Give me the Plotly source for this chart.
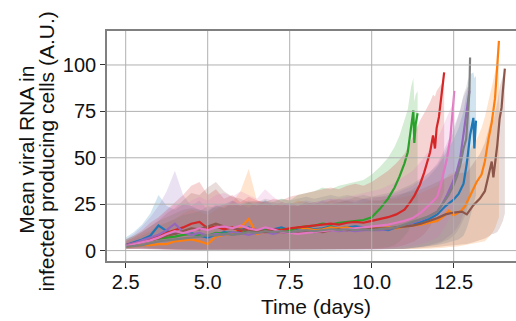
import plotly.graph_objects as go

# Shared sampling grid (days) for the slow phase of every trajectory
T_EARLY = [2.5, 2.75, 3.0, 3.25, 3.5, 3.75, 4.0, 4.25, 4.5, 4.75,
           5.0, 5.25, 5.5, 5.75, 6.0, 6.25, 6.5, 6.75, 7.0, 7.25,
           7.5, 7.75, 8.0, 8.25, 8.5, 8.75, 9.0, 9.25, 9.5, 9.75, 10.0]

# ---- run 1 (blue) ----
BLUE_T = T_EARLY + [10.25, 10.5, 10.75, 11.0, 11.25, 11.5, 11.75, 12.0, 12.25, 12.5,
                    12.65, 12.8, 12.9, 13.0, 13.1, 13.13, 13.18]
BLUE_MEAN = [3.0, 4.5, 6.0, 8.0, 13.5, 10.5, 9.0, 10.5, 9.5, 8.0, 7.0, 8.5, 10.0, 9.5, 11.0,
             12.5, 10.5, 12.0, 11.5, 12.5, 11.0, 12.0, 12.5, 11.5, 12.0, 13.0, 12.0, 12.5, 13.0, 12.5, 12.0,
             11.5, 11.0, 12.5, 13.0, 14.0, 15.5, 17.0, 19.5, 24.0, 27.5, 30.5, 36.0, 47.0, 62.0, 71.5, 55.0, 70.0]
BLUE_HI = [7, 10, 14, 20, 30, 24, 22, 25, 24, 22, 21, 24, 25, 27, 24,
           26, 24, 27, 25, 24, 26, 24, 26, 25, 27, 25, 26, 27, 26, 28, 27,
           27, 28, 29, 31, 33, 36, 40, 45, 52, 60, 66, 75, 85, 95, 96, 93, 94]
BLUE_LO = [1.5, 2.0, 2.0, 1.5, 1.0, 0.8, 0.6, 0.5, 0.5, 0.4, 0.4, 0.5, 0.4, 0.5, 0.4,
           0.5, 0.4, 0.5, 0.5, 0.4, 0.5, 0.5, 0.4, 0.5, 0.5, 0.5, 0.4, 0.5, 0.5, 0.5, 0.5,
           0.5, 0.6, 0.8, 1, 1.5, 2, 2.5, 3, 4, 5, 6, 8, 12, 18, 25, 26, 30]

# ---- run 2 (orange) ----
ORANGE_T = T_EARLY + [10.25, 10.5, 10.75, 11.0, 11.25, 11.5, 11.75, 12.0, 12.2, 12.35,
                      12.5, 12.7, 12.85, 12.95, 13.05, 13.2, 13.35, 13.45, 13.56, 13.66,
                      13.76, 13.81, 13.88]
ORANGE_MEAN = [2.0, 2.5, 3.0, 3.0, 3.5, 3.5, 5.0, 5.5, 6.0, 5.0, 3.5, 7.5, 8.5, 9.0, 12.5,
               17.0, 9.0, 10.0, 9.5, 10.0, 11.0, 12.5, 12.0, 11.0, 11.5, 12.5, 12.0, 12.5, 11.5, 12.0, 12.5,
               12.0, 12.5, 12.0, 13.0, 13.5, 14.0, 15.0, 16.0, 18.5, 21.5, 19.0, 21.0, 24.0, 28.0, 31.5,
               37.0, 41.0, 48.0, 60.0, 69.0, 82.0, 96.0, 113.0]
ORANGE_HI = [5, 7, 9, 11, 14, 15, 17, 20, 22, 21, 19, 22, 24, 26, 32,
             44, 27, 26, 24, 26, 25, 27, 26, 25, 26, 27, 26, 27, 25, 26, 27,
             27, 28, 28, 29, 30, 31, 33, 35, 38, 41, 42, 45, 48, 52, 56,
             60, 66, 72, 80, 88, 96, 100, 104]
ORANGE_LO = [1.0, 1.2, 1.2, 1.0, 0.8, 0.8, 0.6, 0.5, 0.5, 0.5, 0.4, 0.5, 0.5, 0.4, 0.5,
             0.5, 0.4, 0.5, 0.5, 0.5, 0.4, 0.5, 0.5, 0.4, 0.5, 0.5, 0.5, 0.4, 0.5, 0.5, 0.5,
             0.5, 0.5, 0.5, 0.6, 0.7, 0.8, 1, 1.2, 1.5, 2, 2, 2.5, 3, 3, 3.5,
             4, 4.5, 5, 7, 9, 12, 15, 18]

# ---- run 3 (green) ----
GREEN_T = T_EARLY + [10.25, 10.5, 10.7, 10.85, 11.0, 11.1, 11.2, 11.27, 11.3, 11.34, 11.4]
GREEN_MEAN = [3.0, 3.5, 4.5, 5.5, 6.5, 7.0, 7.5, 8.5, 9.0, 8.5, 8.0, 9.5, 9.0, 10.0, 9.5,
              10.5, 10.0, 11.0, 10.5, 11.5, 11.0, 12.5, 13.0, 13.5, 14.5, 14.0, 15.0, 15.5, 16.0, 16.5, 18.0,
              22.5, 28.0, 34.0, 40.0, 47.0, 53.0, 66.0, 75.5, 58.0, 68.0, 74.0]
GREEN_HI = [6, 8, 10, 13, 16, 18, 20, 22, 23, 22, 21, 24, 23, 25, 24,
            26, 25, 27, 26, 28, 27, 30, 31, 32, 34, 33, 35, 36, 37, 38, 41,
            45, 50, 56, 62, 70, 76, 88, 93, 80, 84, 86]
GREEN_LO = [1.2, 1.5, 1.5, 1.2, 1.0, 0.8, 0.7, 0.6, 0.6, 0.5, 0.5, 0.6, 0.5, 0.6, 0.5,
            0.6, 0.5, 0.6, 0.5, 0.6, 0.6, 0.7, 0.7, 0.8, 0.8, 0.8, 0.9, 0.9, 1.0, 1.0, 1.2,
            1.5, 2, 3, 5, 8, 10, 14, 16, 15, 16, 18]

# ---- run 4 (red) ----
RED_T = T_EARLY + [10.25, 10.5, 10.75, 11.0, 11.17, 11.3, 11.47, 11.6, 11.78, 11.87,
                   11.93, 11.98, 12.05, 12.12, 12.21]
RED_MEAN = [3.0, 4.0, 5.0, 6.5, 8.0, 9.5, 11.0, 12.5, 14.5, 15.5, 12.0, 13.0, 11.5, 12.5, 10.5,
            12.0, 11.0, 10.5, 11.5, 11.0, 12.0, 12.5, 13.0, 13.5, 14.0, 14.5, 14.0, 15.0, 15.5, 15.0, 16.0,
            17.0, 18.0, 19.5, 22.0, 26.0, 29.5, 35.5, 42.0, 53.0, 62.0, 55.0, 66.0, 72.0, 82.0, 96.0]
RED_HI = [6, 8, 11, 15, 18, 22, 26, 30, 35, 37, 30, 33, 28, 30, 26,
          29, 27, 26, 28, 27, 29, 30, 31, 32, 33, 34, 33, 35, 36, 35, 37,
          40, 43, 47, 52, 58, 63, 70, 74, 80, 84, 83, 86, 88, 90, 92]
RED_LO = [1.0, 1.2, 1.2, 1.0, 0.8, 0.7, 0.6, 0.5, 0.5, 0.5, 0.4, 0.5, 0.5, 0.4, 0.5,
          0.5, 0.5, 0.4, 0.5, 0.5, 0.5, 0.6, 0.6, 0.7, 0.7, 0.8, 0.8, 0.9, 0.9, 1.0, 1.0,
          1, 1.5, 2, 3, 4, 5, 7, 9, 13, 17, 16, 20, 24, 28, 32]

# ---- run 5 (purple) ----
PURPLE_T = T_EARLY + [10.25, 10.5, 10.75, 11.0, 11.25, 11.5, 11.75, 12.0, 12.15, 12.3,
                      12.45, 12.6, 12.7, 12.78, 12.86, 12.92, 12.98]
PURPLE_MEAN = [3.0, 4.0, 5.5, 7.0, 8.5, 11.0, 14.5, 10.0, 8.5, 9.5, 8.0, 9.0, 8.5, 10.0, 9.5,
               8.5, 9.5, 10.0, 9.0, 10.0, 9.5, 10.0, 10.5, 10.0, 10.5, 11.0, 10.5, 11.0, 10.5, 11.0, 11.0,
               11.0, 11.5, 12.5, 13.5, 15.0, 16.5, 18.5, 21.0, 25.0, 30.0, 36.0, 43.0, 50.0, 60.0, 70.0,
               78.0, 86.0]
PURPLE_HI = [6, 9, 13, 18, 24, 32, 43, 30, 24, 27, 22, 25, 23, 27, 25,
             23, 26, 27, 24, 26, 25, 26, 27, 26, 27, 28, 27, 28, 27, 28, 28,
             29, 30, 31, 33, 35, 38, 42, 47, 52, 58, 64, 71, 76, 82, 86, 88, 88]
PURPLE_LO = [1.0, 1.2, 1.0, 0.8, 0.6, 0.5, 0.5, 0.4, 0.4, 0.5, 0.4, 0.4, 0.5, 0.4, 0.5,
             0.4, 0.5, 0.4, 0.5, 0.4, 0.5, 0.4, 0.5, 0.5, 0.4, 0.5, 0.5, 0.4, 0.5, 0.5, 0.5,
             0.5, 0.6, 0.8, 1, 1.5, 2, 3, 4, 5, 7, 9, 12, 15, 19, 23, 26, 29]

# ---- run 6 (brown) ----
BROWN_T = T_EARLY + [10.25, 10.5, 10.75, 11.0, 11.25, 11.5, 11.75, 12.0, 12.25, 12.5,
                     12.75, 12.9, 13.1, 13.3, 13.45, 13.6, 13.66, 13.71, 13.83, 13.9,
                     13.96, 14.0, 14.06]
BROWN_MEAN = [2.5, 3.5, 4.5, 5.5, 6.5, 8.0, 9.0, 10.5, 12.0, 11.5, 13.0, 14.5, 13.0, 12.0, 11.5,
              10.5, 11.0, 10.0, 10.5, 10.0, 9.5, 9.5, 10.0, 10.5, 10.0, 11.0, 11.5, 11.0, 12.0, 11.5, 12.0,
              12.0, 12.0, 12.5, 13.0, 13.5, 14.5, 16.0, 17.5, 19.5, 20.5, 21.0, 19.5, 24.5, 28.0, 32.0,
              44.0, 48.0, 39.5, 57.0, 71.0, 77.0, 86.0, 98.0]
BROWN_HI = [5, 7, 10, 13, 16, 20, 23, 27, 31, 30, 34, 37, 32, 29, 28,
            26, 27, 25, 26, 25, 24, 24, 25, 26, 25, 27, 28, 27, 29, 28, 29,
            29, 29, 30, 31, 32, 33, 35, 37, 39, 41, 42, 42, 47, 52, 58,
            68, 72, 70, 80, 88, 92, 95, 98]
BROWN_LO = [1.0, 1.0, 0.8, 0.8, 0.6, 0.5, 0.5, 0.5, 0.4, 0.5, 0.4, 0.5, 0.5, 0.4, 0.5,
            0.5, 0.4, 0.5, 0.5, 0.4, 0.5, 0.5, 0.4, 0.5, 0.5, 0.5, 0.5, 0.6, 0.6, 0.6, 0.6,
            0.6, 0.6, 0.7, 0.8, 1, 1.2, 1.5, 2, 2.5, 3, 3.5, 3.5, 4.5, 5.5, 6.5,
            8, 9, 9, 10, 12, 14, 16, 20]

# ---- run 7 (pink) ----
PINK_T = T_EARLY + [10.25, 10.5, 10.75, 11.0, 11.25, 11.5, 11.75, 12.0, 12.1, 12.2,
                    12.3, 12.4, 12.45, 12.49, 12.52]
PINK_MEAN = [2.5, 3.5, 4.5, 5.5, 7.0, 9.0, 10.5, 9.5, 10.5, 12.0, 11.0, 12.5, 13.0, 12.0, 13.5,
             12.0, 11.0, 12.5, 11.5, 10.0, 9.5, 9.0, 9.5, 10.0, 10.5, 11.0, 11.0, 11.5, 12.0, 12.5, 13.0,
             13.5, 14.0, 15.0, 16.0, 17.5, 20.5, 24.5, 29.0, 35.0, 43.0, 50.0, 61.0, 70.0, 80.0, 86.0]
PINK_HI = [5, 7, 10, 13, 17, 21, 25, 24, 27, 29, 27, 30, 31, 29, 32,
           30, 28, 33, 29, 26, 25, 24, 25, 26, 27, 28, 28, 29, 30, 31, 32,
           33, 35, 37, 40, 43, 48, 54, 60, 64, 68, 72, 76, 78, 80, 80]
PINK_LO = [1.0, 1.0, 0.8, 0.7, 0.6, 0.5, 0.5, 0.5, 0.4, 0.5, 0.5, 0.4, 0.5, 0.5, 0.4,
           0.5, 0.5, 0.4, 0.5, 0.5, 0.4, 0.5, 0.5, 0.5, 0.4, 0.5, 0.5, 0.6, 0.6, 0.7, 0.8,
           1, 1, 1.5, 2, 2.5, 3.5, 5, 7, 9, 12, 15, 19, 22, 25, 27]

# ---- run 8 (gray) ----
GRAY_T = T_EARLY + [10.25, 10.5, 10.75, 11.0, 11.25, 11.5, 11.75, 12.0, 12.2, 12.35,
                    12.5, 12.6, 12.7, 12.8, 12.88, 12.93, 12.98, 13.0]
GRAY_MEAN = [2.0, 2.5, 3.0, 4.0, 5.0, 5.5, 6.0, 6.5, 7.0, 7.5, 8.5, 8.0, 9.0, 8.5, 9.0,
             10.0, 9.5, 10.5, 10.0, 10.5, 10.0, 10.5, 11.0, 10.5, 11.0, 11.5, 11.0, 11.5, 11.0, 11.5, 11.0,
             11.5, 12.0, 12.5, 14.0, 15.5, 17.0, 18.5, 21.0, 26.0, 30.0, 35.5, 40.0, 46.0, 55.0, 60.0,
             72.0, 86.0, 104.0]
GRAY_HI = [4, 6, 8, 10, 13, 15, 17, 19, 20, 21, 24, 23, 25, 24, 25,
           27, 26, 28, 27, 28, 27, 28, 29, 28, 29, 30, 29, 30, 29, 30, 29,
           30, 31, 32, 34, 36, 39, 42, 46, 52, 58, 64, 70, 76, 84, 88, 92, 94, 95]
GRAY_LO = [0.8, 1.0, 1.0, 0.8, 0.7, 0.6, 0.5, 0.5, 0.5, 0.4, 0.5, 0.4, 0.5, 0.5, 0.4,
           0.5, 0.4, 0.5, 0.5, 0.5, 0.4, 0.5, 0.5, 0.4, 0.5, 0.5, 0.5, 0.4, 0.5, 0.5, 0.5,
           0.5, 0.6, 0.8, 1, 1.5, 2, 2.5, 3.5, 5, 6, 8, 10, 13, 17, 20, 24, 28, 30]

X_TICKS = [2.5, 5.0, 7.5, 10.0, 12.5]
X_TICK_TEXT = ["2.5", "5.0", "7.5", "10.0", "12.5"]
Y_TICKS = [0, 25, 50, 75, 100]

SERIES = [
    ("#1f77b4", BLUE_T, BLUE_MEAN, BLUE_LO, BLUE_HI),
    ("#ff7f0e", ORANGE_T, ORANGE_MEAN, ORANGE_LO, ORANGE_HI),
    ("#2ca02c", GREEN_T, GREEN_MEAN, GREEN_LO, GREEN_HI),
    ("#d62728", RED_T, RED_MEAN, RED_LO, RED_HI),
    ("#9467bd", PURPLE_T, PURPLE_MEAN, PURPLE_LO, PURPLE_HI),
    ("#8c564b", BROWN_T, BROWN_MEAN, BROWN_LO, BROWN_HI),
    ("#e377c2", PINK_T, PINK_MEAN, PINK_LO, PINK_HI),
    ("#7f7f7f", GRAY_T, GRAY_MEAN, GRAY_LO, GRAY_HI),
]


def rgba(hex_color, alpha):
    h = hex_color.lstrip("#")
    r, g, b = int(h[0:2], 16), int(h[2:4], 16), int(h[4:6], 16)
    return f"rgba({r},{g},{b},{alpha})"


fig = go.Figure()

# Shaded spread bands first, so every mean line sits on top of all of them
for color, t, mean, lo, hi in SERIES:
    assert len(t) == len(mean) == len(lo) == len(hi)
    fig.add_trace(go.Scatter(x=t, y=lo, mode="lines", line=dict(width=0),
                             showlegend=False, hoverinfo="skip"))
    fig.add_trace(go.Scatter(x=t, y=hi, mode="lines", line=dict(width=0),
                             fill="tonexty", fillcolor=rgba(color, 0.2),
                             showlegend=False, hoverinfo="skip"))

for color, t, mean, lo, hi in SERIES:
    fig.add_trace(go.Scatter(x=t, y=mean, mode="lines",
                             line=dict(color=color, width=2.2), showlegend=False))

FONT = "Liberation Sans, Arial, sans-serif"
GRID = "#b0b0b0"
SPINE = "#808080"

shapes = []
for v in X_TICKS:
    shapes.append(dict(type="line", xref="x", yref="paper", x0=v, x1=v, y0=0, y1=1,
                       line=dict(color=GRID, width=1), layer="above"))
for v in Y_TICKS:
    shapes.append(dict(type="line", xref="paper", yref="y", x0=0, x1=1, y0=v, y1=v,
                       line=dict(color=GRID, width=1), layer="above"))

axis_common = dict(
    showgrid=False, zeroline=False, ticks="outside", ticklen=5, tickwidth=1.2,
    tickcolor="#333333", showline=True, linecolor=SPINE, linewidth=1.6,
    tickfont=dict(family=FONT, size=20, color="#111111"),
)

fig.update_layout(
    width=516, height=321,
    margin=dict(l=107, r=0, t=31, b=60),
    paper_bgcolor="white", plot_bgcolor="white",
    xaxis=dict(range=[1.93, 14.40], tickvals=X_TICKS, ticktext=X_TICK_TEXT,
               mirror=True, ticklabelstandoff=-3, **axis_common),
    yaxis=dict(range=[-5.6, 118.3], tickvals=Y_TICKS, mirror=False, **axis_common),
    shapes=shapes,
    annotations=[
        dict(text="Time (days)", xref="paper", yref="paper", x=0.511, y=-0.198,
             xanchor="center", yanchor="middle", showarrow=False,
             font=dict(family=FONT, size=21, color="#111111")),
        dict(text="Mean viral RNA in", xref="paper", yref="paper", x=-0.196, y=0.483,
             xanchor="center", yanchor="middle", textangle=-90, showarrow=False,
             font=dict(family=FONT, size=21, color="#111111")),
        dict(text="infected producing cells (A.U.)", xref="paper", yref="paper",
             x=-0.147, y=0.476, xanchor="center", yanchor="middle", textangle=-90,
             showarrow=False, font=dict(family=FONT, size=21, color="#111111")),
    ],
)

fig.write_html("out.html")
